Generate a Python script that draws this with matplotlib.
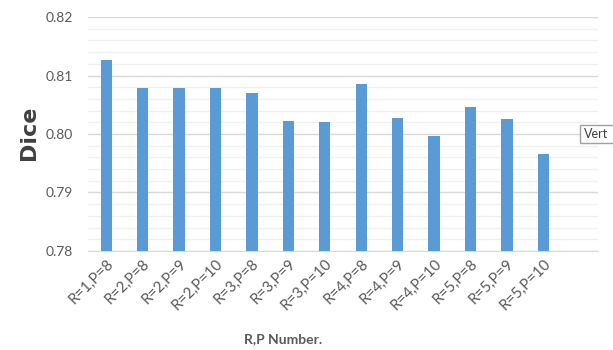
import numpy as np
import matplotlib
matplotlib.use("Agg")
import matplotlib.pyplot as plt
from matplotlib.patches import Rectangle
from matplotlib.ticker import MultipleLocator

# Дані
categories = ["R=1,P=8", "R=2,P=8", "R=2,P=9", "R=2,P=10", "R=3,P=8", "R=3,P=9",
              "R=3,P=10", "R=4,P=8", "R=4,P=9", "R=4,P=10", "R=5,P=8", "R=5,P=9",
              "R=5,P=10"]
dice = [0.8126, 0.8078, 0.8078, 0.8078, 0.8070, 0.8023, 0.8021,
        0.8085, 0.8028, 0.7997, 0.8047, 0.8026, 0.7966]
y_ticks = [0.78, 0.79, 0.80, 0.81, 0.82]

plt.rcParams["font.family"] = ["Lato", "DejaVu Sans"]
text_grey = "#595959"

fig = plt.figure(figsize=(6.13, 3.5), dpi=100)
ax = fig.add_axes([0.1436, 0.2829, 0.832, 0.6685])

x = np.arange(len(categories))
ax.bar(x, dice, width=0.31, color="#5B9BD5", zorder=3)

ax.set_ylim(y_ticks[0], y_ticks[-1])
ax.set_xlim(-0.5, len(categories) + 0.5)
ax.set_yticks(y_ticks)
ax.set_yticklabels([f"{v:.2f}" for v in y_ticks])
ax.yaxis.set_minor_locator(MultipleLocator(0.002))

ax.grid(axis="y", which="major", color="#D9D9D9", linewidth=1.0, zorder=0)
ax.grid(axis="y", which="minor", color="#F0F0F0", linewidth=1.0, zorder=0)
ax.tick_params(axis="y", which="both", length=0, labelsize=10,
               labelcolor=text_grey, pad=11)
ax.tick_params(axis="x", length=0, labelsize=10.8, labelcolor=text_grey, pad=4)

ax.set_xticks(x)
ax.set_xticklabels(categories, rotation=45, ha="right", rotation_mode="anchor")

for side in ["top", "right", "left"]:
    ax.spines[side].set_visible(False)
ax.spines["bottom"].set_color("#D9D9D9")
ax.spines["bottom"].set_zorder(1)

ax.set_ylabel("Dice", fontsize=16, fontweight="bold", color="#404040",
              family="DejaVu Sans")
ax.yaxis.set_label_coords(-0.097, 0.505)
ax.set_xlabel("R,P Number.", fontsize=10, fontweight="bold", color=text_grey)
ax.xaxis.set_label_coords(0.382, -0.35)

# підказка, що частково видна справа (рамка виходить за край)
fig.patches.append(Rectangle((580 / 613, 207 / 350), 50 / 613, 18 / 350,
                             transform=fig.transFigure, facecolor="white",
                             edgecolor="#A0A0A0", linewidth=1.0))
fig.text(584 / 613, 216 / 350, "Vert", fontsize=9, color="#404040",
         va="center", ha="left")

fig.savefig("out.png", dpi=100)
plt.close(fig)
